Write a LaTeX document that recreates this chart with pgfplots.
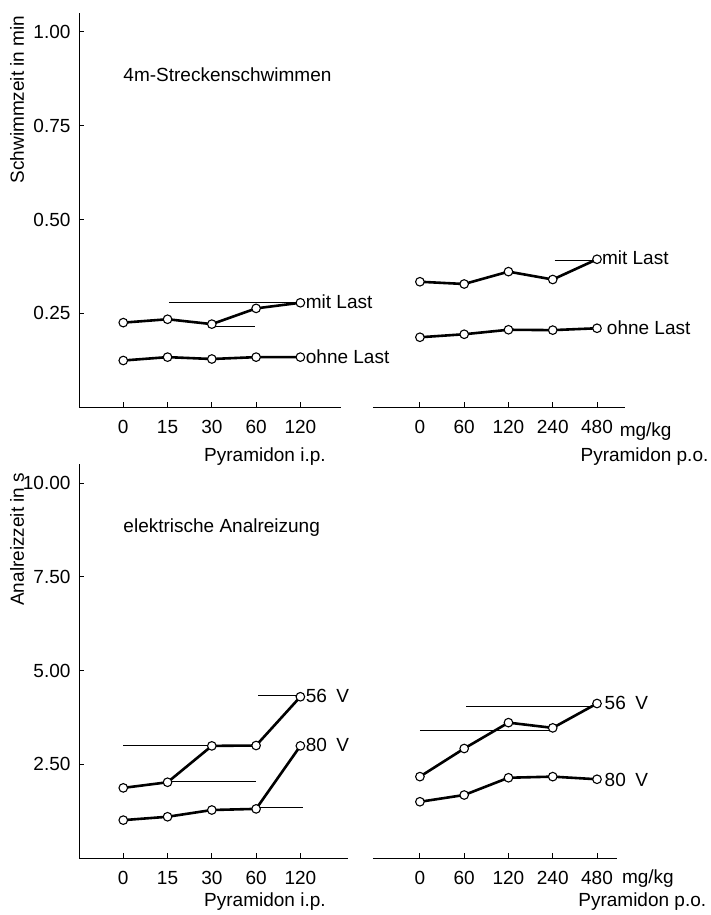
\documentclass[border=0pt]{standalone}
\usepackage{pgfplots}
\pgfplotsset{compat=1.18}
\usepackage{fontspec}
\setmainfont{Liberation Sans}
\pgfplotsset{
  panel/.style={
    scale only axis, width=549pt, height=393.75pt,
    xmin=-1, xmax=11.4,
    axis x line=bottom, axis y line=left,
    axis line style={-, line width=1pt},
    x axis line style={draw=none},
    tick align=inside, major tick length=5pt,
    tick style={line width=1pt, black},
    xtick={0,1,2,3,4,6.7,7.7,8.7,9.7,10.7},
    clip=false, anchor=south west,
    yticklabel style={xshift=-5pt},
    xticklabel style={yshift=-12pt, inner sep=1pt},
    /pgf/number format/assume math mode=true,
    font=\fontsize{19}{22}\selectfont,
  },
  ser/.style={black, line width=2.6pt, mark=*, mark size=4.3pt,
    mark options={fill=white, draw=black, line width=1.1pt}},
  thin/.style={black, line width=0.8pt, forget plot},
  base/.style={black, line width=1pt, forget plot},
}
\begin{document}
\begin{tikzpicture}[x=1pt,y=1pt]
\useasboundingbox (0,0) rectangle (711,-915);
% ---------- top panel ----------
\begin{axis}[panel, at={(79pt,-407pt)},
  ymin=0, ymax=1.05,
  ytick={0.25,0.5,0.75,1},
  yticklabels={0.25,0.50,0.75,1.00},
  xticklabels={0,15,30,60,120,0,60,120,240,480}]
\addplot[base] coordinates {(-1,0) (4.92,0)};
\addplot[base] coordinates {(5.64,0) (11.33,0)};
\addplot[thin] coordinates {(1.03,0.278) (4,0.278)};
\addplot[thin] coordinates {(2.02,0.216) (2.97,0.216)};
\addplot[thin] coordinates {(9.74,0.392) (10.7,0.392)};
\addplot[ser] coordinates {(0,0.225) (1,0.234) (2,0.221) (3,0.263) (4,0.278)};
\addplot[ser] coordinates {(0,0.124) (1,0.133) (2,0.128) (3,0.133) (4,0.133)};
\addplot[ser] coordinates {(6.7,0.334) (7.7,0.328) (8.7,0.361) (9.7,0.340) (10.7,0.394)};
\addplot[ser] coordinates {(6.7,0.186) (7.7,0.194) (8.7,0.206) (9.7,0.205) (10.7,0.210)};
\node[anchor=west, inner sep=0pt] at (axis cs:4.12,0.281) {mit Last};
\node[anchor=west, inner sep=0pt] at (axis cs:4.12,0.133) {ohne Last};
\node[anchor=west, inner sep=0pt] at (axis cs:10.81,0.397) {mit Last};
\node[anchor=west, inner sep=0pt] at (axis cs:10.92,0.211) {ohne Last};
\node[anchor=west, inner sep=0pt] at (axis cs:0,0.885) {4m-Streckenschwimmen};
\node[anchor=west, inner sep=0pt] at (axis cs:11.21,-0.0667) {mg/kg};
\node[inner sep=0pt] at (axis cs:3.2,-0.132) {Pyramidon i.p.};
\node[anchor=east, inner sep=0pt] at (axis cs:13.22,-0.132) {Pyramidon p.o.};
\node[rotate=90, inner sep=0pt] at (axis cs:-2.4,0.82) {Schwimmzeit in min};
\end{axis}
% ---------- bottom panel ----------
\begin{axis}[panel, at={(79pt,-858pt)},
  ymin=0, ymax=10.5,
  ytick={2.5,5,7.5,10},
  yticklabels={2.50,5.00,7.50,10.00},
  xticklabels={0,15,30,60,120,0,60,120,240,480}]
\addplot[base] coordinates {(-1,0) (5.07,0)};
\addplot[base] coordinates {(5.64,0) (11.15,0)};
\addplot[thin] coordinates {(0,3.0) (2,3.0)};
\addplot[thin] coordinates {(1.1,2.05) (3,2.05)};
\addplot[thin] coordinates {(3.05,4.33) (4,4.33)};
\addplot[thin] coordinates {(3,1.35) (4.05,1.35)};
\addplot[thin] coordinates {(7.75,4.05) (10.7,4.05)};
\addplot[thin] coordinates {(6.7,3.41) (9.63,3.41)};
\addplot[ser] coordinates {(0,1.87) (1,2.02) (2,2.99) (3,3.0) (4,4.30)};
\addplot[ser] coordinates {(0,1.01) (1,1.10) (2,1.28) (3,1.31) (4,2.99)};
\addplot[ser] coordinates {(6.7,2.17) (7.7,2.92) (8.7,3.61) (9.7,3.47) (10.7,4.12)};
\addplot[ser] coordinates {(6.7,1.50) (7.7,1.68) (8.7,2.14) (9.7,2.17) (10.7,2.10)};
\node[anchor=west, inner sep=0pt] at (axis cs:4.12,4.32) {56\enspace V};
\node[anchor=west, inner sep=0pt] at (axis cs:4.12,3.01) {80\enspace V};
\node[anchor=west, inner sep=0pt] at (axis cs:10.87,4.13) {56\enspace V};
\node[anchor=west, inner sep=0pt] at (axis cs:10.87,2.08) {80\enspace V};
\node[anchor=west, inner sep=0pt] at (axis cs:0,8.8) {elektrische Analreizung};
\node[anchor=west, inner sep=0pt] at (axis cs:11.26,-0.56) {mg/kg};
\node[inner sep=0pt] at (axis cs:3.2,-1.15) {Pyramidon i.p.};
\node[anchor=east, inner sep=0pt] at (axis cs:13.17,-1.15) {Pyramidon p.o.};
\node[rotate=90, inner sep=0pt] at (axis cs:-2.4,8.5) {Analreizzeit in s};
\end{axis}
\end{tikzpicture}
\end{document}
